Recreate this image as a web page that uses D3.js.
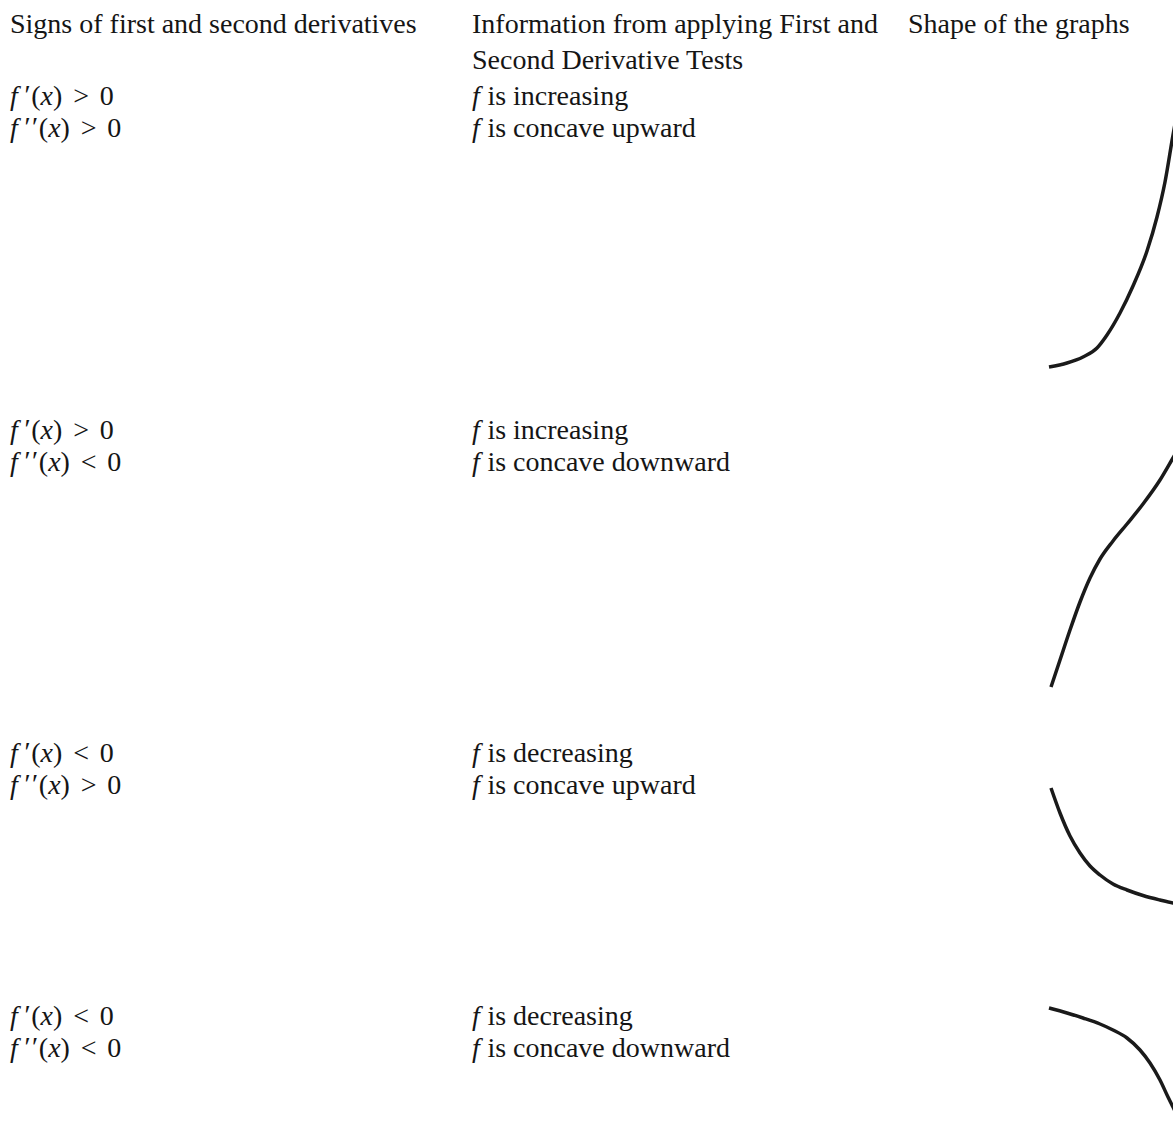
<!DOCTYPE html>
<html>
<head>
<meta charset="utf-8">
<script src="https://cdn.jsdelivr.net/npm/d3@7"></script>
<style>
  html, body { margin: 0; padding: 0; background: #fff; }
  svg { display: block; }
  text { font-family: "Liberation Serif", "Times New Roman", serif; font-size: 28px; fill: #151515; }
</style>
</head>
<body>
<svg id="chart" width="1173" height="1122"></svg>
<script>
// ---- data ----
const headers = ["Signs of first and second derivatives", "Information from applying First and", "Shape of the graphs"];
const header2 = "Second Derivative Tests";
const firstSigns = [">", ">", "<", "<"];
const secondSigns = [">", "<", ">", "<"];
const monotone = ["increasing", "increasing", "decreasing", "decreasing"];
const concavity = ["concave upward", "concave downward", "concave upward", "concave downward"];

// shape curves (x offset, height within each panel)
const curve1X = [0, 18, 34, 48, 58, 71, 84, 98, 108, 116, 124, 130];
const curve1Y = [3, 7, 13, 22, 35, 57, 84, 119, 153, 188, 235, 268];
const curve2X = [2, 11, 21, 31, 41, 51, 64, 78, 94, 111, 124, 130];
const curve2Y = [3, 30, 60, 88, 112, 131, 149, 166, 186, 210, 232, 242];
const curve3X = [2, 11, 21, 31, 41, 51, 64, 78, 94, 111, 124, 130];
const curve3Y = [122, 97, 74, 57, 44, 35, 26, 20, 14.5, 10, 7, 6];
const curve4X = [0, 18, 34, 51, 64, 78, 91, 101, 111, 119, 124, 130];
const curve4Y = [102, 97, 92, 86, 80, 72, 60, 47, 30, 13, 3, -9];

// ---- layout ----
const svg = d3.select("#chart");
const em = 28;
const colX = [10, 472, 908];
const headerBase = [33, 69];
const rowBase = [105, 439, 762, 1025];
const lineGap = 32;
const panelBottom = [370, 690, 910, 1110];

// headers
headers.forEach((h, i) => {
  svg.append("text").attr("x", colX[i]).attr("y", headerBase[0]).text(h);
});
svg.append("text").attr("x", colX[1]).attr("y", headerBase[1]).text(header2);

// math line: one text element, glyphs placed on TeX-like advance widths (em units)
function mathLine(x0, y, primes, sign) {
  const pieces = [{ t: "f", it: true, w: 0.49, start: true }];
  for (let p = 0; p < primes; p++) pieces.push({ t: "\u2032", w: 0.27, raise: 1 });
  pieces.push({ t: "(", w: 0.333 }, { t: "x", it: true, w: 0.444 }, { t: ")", w: 0.333 },
              { sp: 0.278 }, { t: sign, w: 0.778 }, { sp: 0.278 }, { t: "0", w: 0.5 });
  let cx = x0;
  const t = svg.append("text").attr("x", x0).attr("y", y);
  pieces.forEach(pc => {
    if (pc.sp) { cx += pc.sp * em; return; }
    const s = t.append("tspan").text(pc.t).attr("y", y - (pc.raise || 0));
    if (pc.it) s.attr("font-style", "italic");
    if (pc.start) s.attr("x", cx);
    else s.attr("x", cx + pc.w * em / 2).attr("text-anchor", "middle");
    cx += pc.w * em;
  });
}
function infoLine(x, y, txt) {
  const t = svg.append("text").attr("x", x).attr("y", y);
  t.append("tspan").attr("font-style", "italic").text("f");
  t.append("tspan").attr("x", x + 0.3 * em).text(" is " + txt);
}

rowBase.forEach((b, i) => {
  mathLine(colX[0], b, 1, firstSigns[i]);
  mathLine(colX[0], b + lineGap, 2, secondSigns[i]);
  infoLine(colX[1], b, monotone[i]);
  infoLine(colX[1], b + lineGap, concavity[i]);
});

// curves
const x = d3.scaleLinear().domain([0, 124]).range([1049, 1173]);
const curves = [[curve1X, curve1Y], [curve2X, curve2Y], [curve3X, curve3Y], [curve4X, curve4Y]];
curves.forEach(([xs, ys], i) => {
  const y = d3.scaleLinear().domain([0, 250]).range([panelBottom[i], panelBottom[i] - 250]);
  const line = d3.line().x(d => x(d[0])).y(d => y(d[1])).curve(d3.curveMonotoneX);
  svg.append("path")
    .attr("d", line(xs.map((v, k) => [v, ys[k]])))
    .attr("fill", "none")
    .attr("stroke", "#1a1a1a")
    .attr("stroke-width", 3.5)
    .attr("stroke-linecap", "butt");
});
</script>
</body>
</html>
